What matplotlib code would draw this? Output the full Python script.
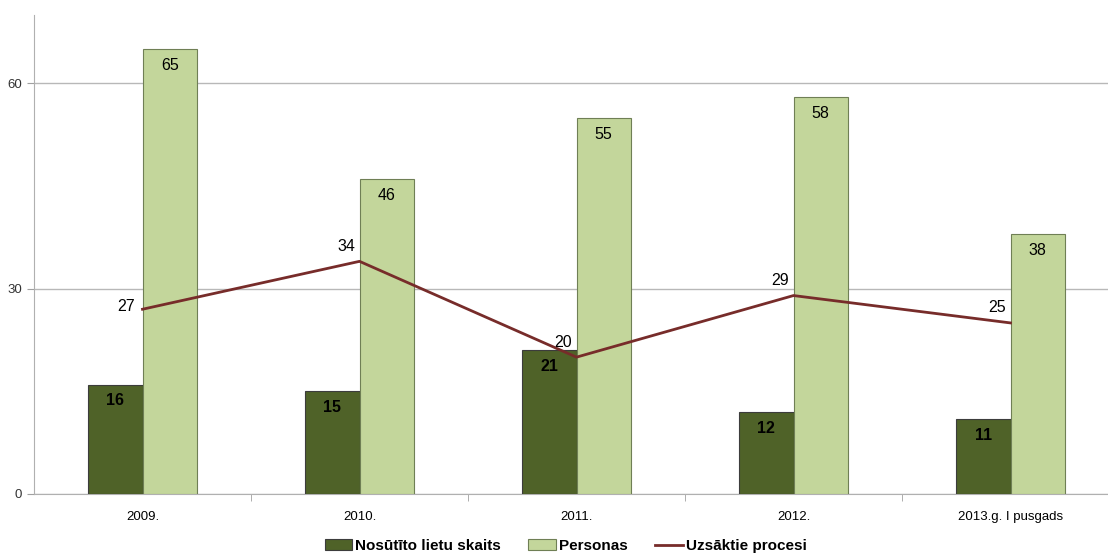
import matplotlib
matplotlib.use('Agg')
import matplotlib.pyplot as plt
import numpy as np

plt.rcParams['font.family'] = ['Liberation Sans', 'DejaVu Sans']

years = ['2009.', '2010.', '2011.', '2012.', '2013.g. I pusgads']
nosutito = [16, 15, 21, 12, 11]
personas = [65, 46, 55, 58, 38]
procesi = [27, 34, 20, 29, 25]

dark = '#4F6228'
light = '#C3D69B'
red = '#772C2A'

fig = plt.figure(figsize=(11.08, 5.54), dpi=100)
ax = fig.add_axes([34 / 1108, 60 / 554, 1085 / 1108, 479 / 554])

x = np.arange(len(years))
w = 0.25
b1 = ax.bar(x - w / 2, nosutito, w, color=dark, edgecolor='#3c3c3c', linewidth=0.8,
            label='Nosūtīto lietu skaits', zorder=3)
b2 = ax.bar(x + w / 2, personas, w, color=light, edgecolor='#6f7f55', linewidth=0.8,
            label='Personas', zorder=3)
ln, = ax.plot(x, procesi, color=red, linewidth=2, label='Uzsāktie procesi', zorder=4)

for xi, v in zip(x, nosutito):
    ax.text(xi - w / 2, v - 1.3, str(v), ha='center', va='top', fontsize=11.5,
            fontweight='bold', color='black', zorder=5)
for xi, v in zip(x, personas):
    ax.text(xi + w / 2, v - 1.3, str(v), ha='center', va='top', fontsize=11.5,
            color='black', zorder=5)
for i, (xi, v) in enumerate(zip(x, procesi)):
    if i == 0:
        off = (-16, 3)
    else:
        off = (-13, 15)
    ax.annotate(str(v), (xi, v), xytext=off, textcoords='offset pixels',
                ha='center', va='center', fontsize=11.5, zorder=5)

ax.set_xlim(-0.5, 4.5)
ax.set_ylim(0, 70)
ax.set_yticks([0, 30, 60])
ax.set_xticks(x)
ax.set_xticklabels(years)
ax.set_xticks(np.arange(0.5, 4.5, 1), minor=True)
ax.tick_params(axis='x', which='major', length=0, labelsize=9.5, colors='#000000', pad=12)
ax.tick_params(axis='x', which='minor', length=5, color='#a0a0a0')
ax.tick_params(axis='y', length=5, color='#a0a0a0', labelsize=9.5, labelcolor='#333333')
ax.yaxis.grid(True, color='#b8b8b8', linewidth=1, zorder=0)
ax.set_axisbelow(True)
for s in ['top', 'right']:
    ax.spines[s].set_visible(False)
for s in ['left', 'bottom']:
    ax.spines[s].set_color('#b0b0b0')

ax.legend([b1, b2, ln], ['Nosūtīto lietu skaits', 'Personas', 'Uzsāktie procesi'],
          loc='upper center', bbox_to_anchor=(0.49, -0.065), ncol=3, frameon=False,
          prop={'weight': 'bold', 'size': 11}, handlelength=1.8, handleheight=0.7,
          columnspacing=1.8, handletextpad=0.2)

fig.savefig('out.png', dpi=100)
